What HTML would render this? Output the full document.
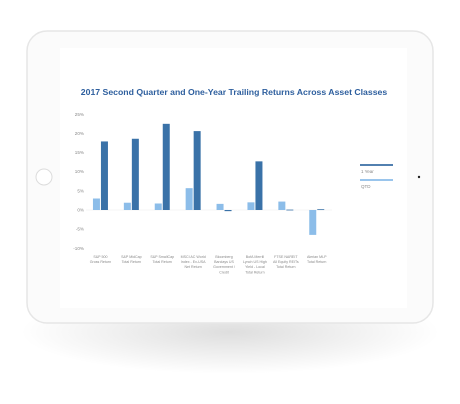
<!DOCTYPE html>
<html><head><meta charset="utf-8"><style>
html,body{margin:0;padding:0;background:#fff;width:460px;height:404px;overflow:hidden;font-family:"Liberation Sans",sans-serif}
</style></head><body>
<svg id="c" width="460" height="404" viewBox="0 0 460 404">
<defs>
<radialGradient id="sh" cx="50%" cy="50%" r="50%"><stop offset="0" stop-color="#000" stop-opacity="0.13"/><stop offset="1" stop-color="#000" stop-opacity="0"/></radialGradient>
</defs>
<ellipse cx="230" cy="332" rx="210" ry="42" fill="url(#sh)"/>
<rect x="27" y="31" width="406" height="292" rx="20" fill="#fbfbfb" stroke="#e6e6e6" stroke-width="1.5"/>
<rect x="60" y="48" width="347" height="260" fill="#fff"/>
<circle cx="44" cy="177" r="8" fill="#fff" stroke="#dcdcdc" stroke-width="1"/>
<circle cx="419" cy="177" r="1.2" fill="#222"/>
<text x="234" y="95" text-anchor="middle" font-size="8.7" font-weight="bold" fill="#2e5f9e">2017 Second Quarter and One-Year Trailing Returns Across Asset Classes</text>
<g id="plot"></g>
<line x1="360" y1="165" x2="393" y2="165" stroke="#3a6ea5" stroke-width="1.8"/>
<text x="361" y="173" font-size="4.5" fill="#888">1 Year</text>
<line x1="360" y1="180" x2="393" y2="180" stroke="#8cbde9" stroke-width="1.8"/>
<text x="361" y="188" font-size="4.5" fill="#888">QTD</text>
</svg>
<script>
const categories=[["S&P 500","Gross Return"],["S&P MidCap","Total Return"],["S&P SmallCap","Total Return"],["MSCI AC World","Index - Ex-USA","Net Return"],["Bloomberg","Barclays US","Government /","Credit"],["BofA Merrill","Lynch US High","Yield - Local","Total Return"],["FTSE NAREIT","All Equity REITs","Total Return"],["Alerian MLP","Total Return"]];
const qtd=[3.0,1.9,1.7,5.7,1.6,2.0,2.2,-6.5];
const oneYear=[17.9,18.6,22.5,20.6,-0.3,12.7,0.1,0.2];
const ticks=[25,20,15,10,5,0,-5,-10];
const NS="http://www.w3.org/2000/svg";
const g=document.getElementById('plot');
const y=v=>210-v*3.83;
const x0=85,gw=30.9;
const cx=i=>x0+gw*(i+0.5);
function mk(t,a){const e=document.createElementNS(NS,t);for(const k in a)e.setAttribute(k,a[k]);g.appendChild(e);return e;}
ticks.forEach(t=>{const e=mk('text',{x:84,y:y(t)+1.5,'text-anchor':'end','font-size':4.6,fill:'#888'});e.textContent=t+'%';

});
const ax=mk('line',{x1:86,y1:210,x2:332,y2:210,stroke:'#eee','stroke-width':0.6});


const bw=7;
categories.forEach((c,i)=>{
 const q=qtd[i],o=oneYear[i];
 const r1=mk('rect',{x:cx(i)-bw-0.5,y:Math.min(y(q),210),width:bw,height:Math.max(Math.abs(y(q)-210),0.6),fill:'#8cbde9'});
 
 
 const r2=mk('rect',{x:cx(i)+0.5,y:Math.min(y(o),210),width:bw,height:Math.max(Math.abs(y(o)-210),0.8),fill:'#3a72a8'});
 
 
 c.forEach((ln,j)=>{const t=mk('text',{x:cx(i),y:258+j*5.1,'text-anchor':'middle','font-size':3.6,fill:'#888'});t.textContent=ln;
 
 });
});
</script>
</body></html>
